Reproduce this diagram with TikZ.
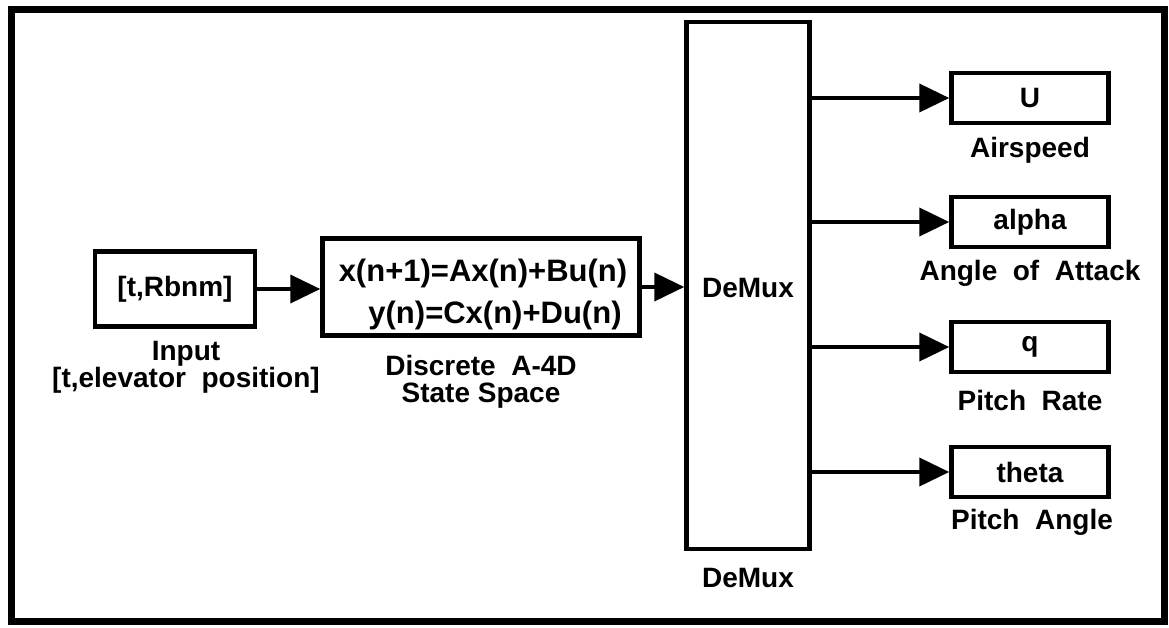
\documentclass[tikz,border=0pt]{standalone}
\usepackage{fontspec}
\setmainfont{Liberation Sans}
\usetikzlibrary{arrows.meta}
\newcommand{\txtfont}{\fontsize{28}{27}\selectfont\bfseries}
\newcommand{\eqfont}{\fontsize{31}{34}\selectfont\bfseries}
\begin{document}
\begin{tikzpicture}[x=1pt,y=-1pt,
  blk/.style={draw, line width=4.5pt, inner sep=0pt, font=\txtfont},
  lbl/.style={inner sep=0pt, font=\txtfont, align=center},
  sig/.style={line width=4pt, -{Triangle[length=30pt,width=28pt]}},
  outbox/.style={blk, minimum width=157, minimum height=50}]
\useasboundingbox (0,0) rectangle (1169,627);
\draw[line width=7pt] (11,9) rectangle (1164,621);
% input
\node[blk, minimum width=160, minimum height=75] (in) at (175,289) {[t,Rbnm]};
\node[lbl] (inl) at (186,367) {Input\\{}[t,elevator\ \ position]};
% state space
\node[blk, minimum width=317, minimum height=97] (ss) at (481,287) {};
\node[lbl, font=\eqfont] (eq1) at (483,273) {x(n+1)=Ax(n)+Bu(n)};
\node[lbl, font=\eqfont] (eq2) at (495,315) {y(n)=Cx(n)+Du(n)};
\node[lbl] (ssl) at (481,382) {Discrete\ \ A-4D\\State Space};
% demux
\node[blk, minimum width=123, minimum height=527] (dm) at (748,285.5) {};
\node[lbl] (dmt) at (748,288) {DeMux};
\node[lbl] (dml) at (748,578) {DeMux};
% outputs
\node[outbox] (u) at (1030,98) {U};
\node[lbl] (ul) at (1030,150) {Airspeed};
\node[outbox] (a) at (1030,222) {alpha};
\node[lbl] (al) at (1030,273) {Angle\ \ of\ \ Attack};
\node[outbox] (q) at (1030,347) {q};
\node[lbl] (ql) at (1030,400) {Pitch\ \ Rate};
\node[outbox] (th) at (1030,472) {theta};
\node[lbl] (thl) at (1032,522) {Pitch\ \ Angle};
% connectors
\draw[sig] (in.east) -- (in.east -| ss.west);
\draw[sig] (ss.east) -- (ss.east -| dm.west);
\draw[sig] (dm.east |- u.west) -- (u.west);
\draw[sig] (dm.east |- a.west) -- (a.west);
\draw[sig] (dm.east |- q.west) -- (q.west);
\draw[sig] (dm.east |- th.west) -- (th.west);
\end{tikzpicture}
\end{document}
